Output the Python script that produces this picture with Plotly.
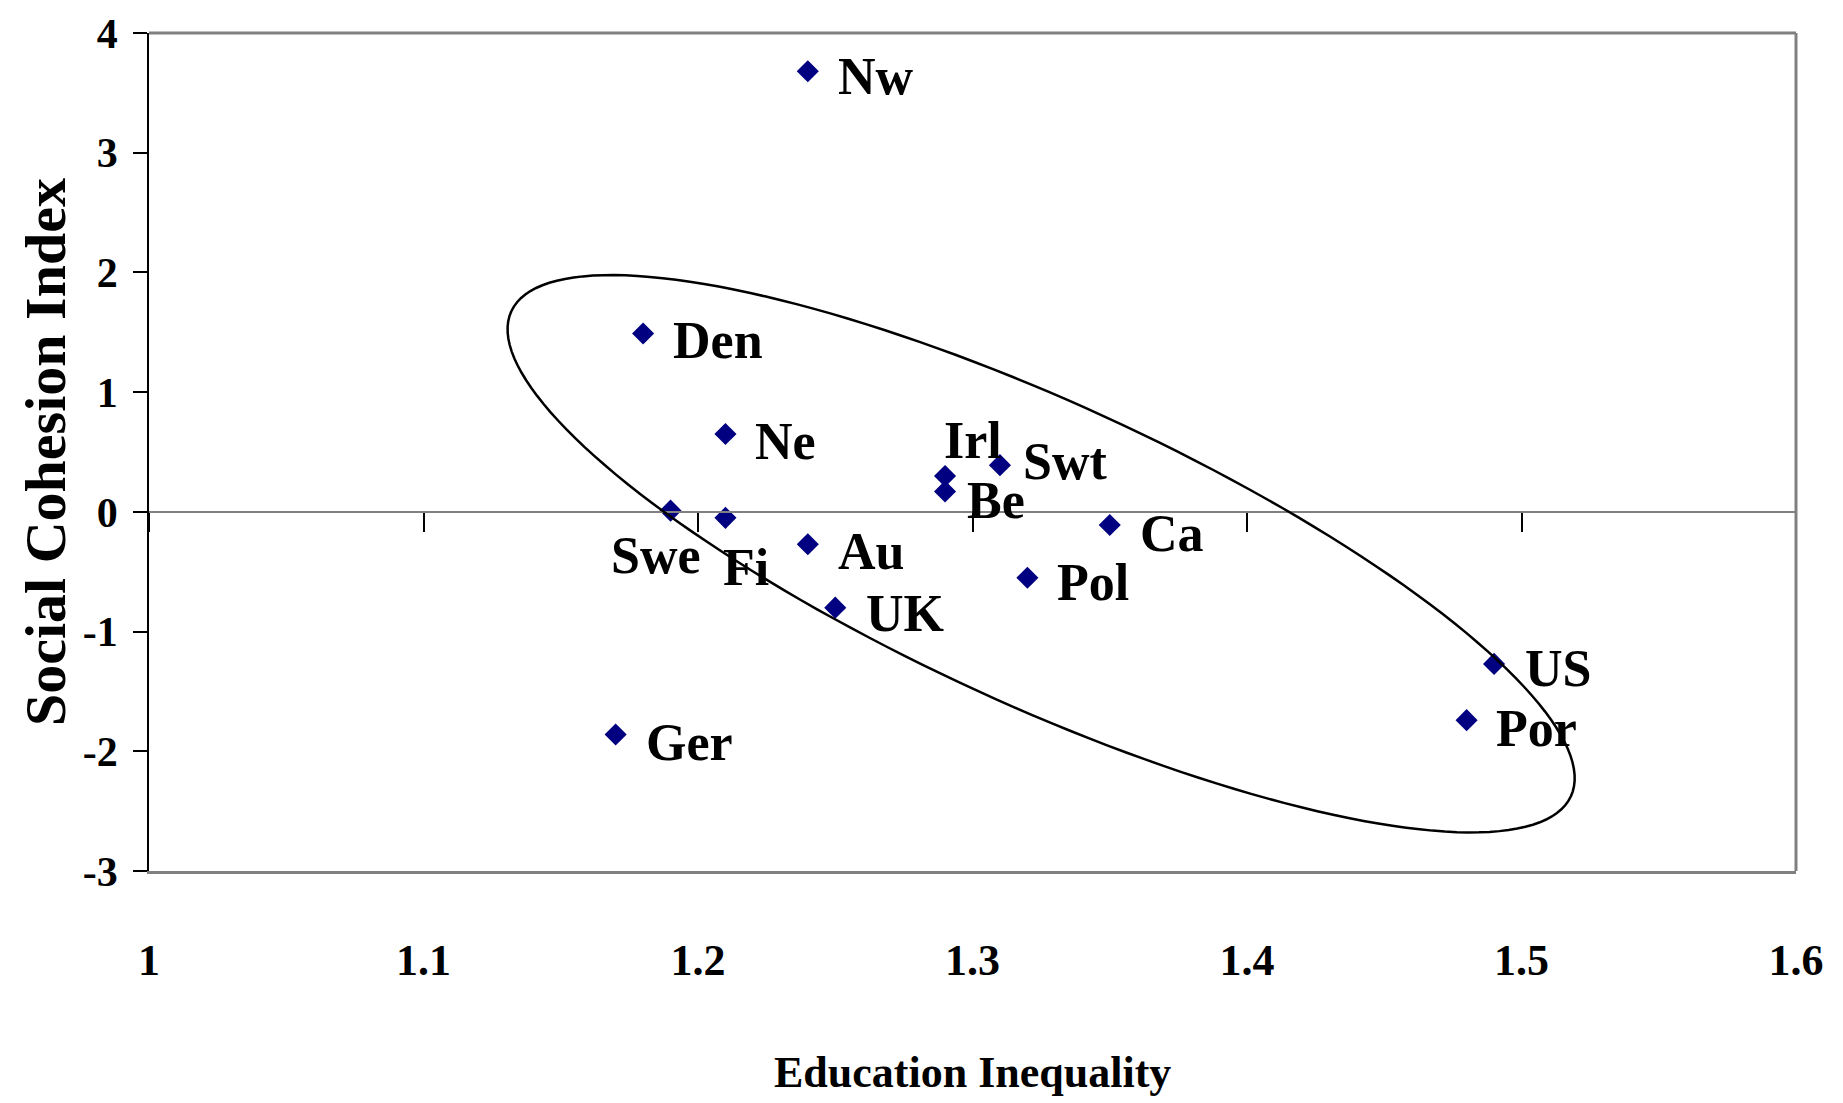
import math
import plotly.graph_objects as go

# ---- data ----
countries = ["Nw", "Den", "Ne", "Swe", "Fi", "Au", "UK", "Irl", "Be", "Swt", "Ca", "Pol", "US", "Por", "Ger"]
education_inequality = [1.24, 1.18, 1.21, 1.19, 1.21, 1.24, 1.25, 1.29, 1.29, 1.31, 1.35, 1.32, 1.49, 1.48, 1.17]
social_cohesion = [3.68, 1.49, 0.65, 0.01, -0.05, -0.27, -0.80, 0.30, 0.17, 0.39, -0.11, -0.55, -1.27, -1.74, -1.86]
x_ticks = [1, 1.1, 1.2, 1.3, 1.4, 1.5, 1.6]
x_tick_labels = ["1", "1.1", "1.2", "1.3", "1.4", "1.5", "1.6"]
y_ticks = [-3, -2, -1, 0, 1, 2, 3, 4]
y_tick_labels = ["-3", "-2", "-1", "0", "1", "2", "3", "4"]

# ---- label placement (styling) ----
label_style = {
    "Nw": ("left", 28, -5), "Den": ("left", 28, -7), "Ne": ("left", 28, -7),
    "Swe": ("center", -15, -45), "Fi": ("center", 21, -50), "Au": ("left", 28, -7),
    "UK": ("left", 29, -6), "Irl": ("left", -3, 35), "Be": ("left", 20, -9),
    "Swt": ("left", 21, 4), "Ca": ("left", 28, -8), "Pol": ("left", 28, -5),
    "US": ("left", 29, -5), "Por": ("left", 27, -8), "Ger": ("left", 28, -8),
}

# ---- ellipse (decorative outline, data coordinates) ----
ELL_C = (1.325, -0.35)
ELL_U = (0.193, -2.026)
ELL_V = (0.0231, 1.146)

FONT = "Liberation Serif, Times New Roman, serif"
GRAY = "#808080"

fig = go.Figure()
fig.add_trace(go.Scatter(
    x=education_inequality, y=social_cohesion, mode="markers",
    marker=dict(symbol="diamond", size=17, color="#000080", line=dict(width=0)),
    showlegend=False, hoverinfo="skip", text=countries,
))
# invisible trace to activate the zero-line x axis
fig.add_trace(go.Scatter(x=[1, 1.6], y=[0, 0], xaxis="x2", yaxis="y", mode="lines",
                         line=dict(width=0), showlegend=False, hoverinfo="skip"))

for c, xv, yv in zip(countries, education_inequality, social_cohesion):
    anc, dx, dy = label_style[c]
    fig.add_annotation(x=xv, y=yv, xref="x", yref="y", text=f"<b>{c}</b>", showarrow=False,
                       xanchor=anc, yanchor="middle", xshift=dx, yshift=dy,
                       font=dict(family=FONT, size=52, color="black"))

# ellipse path
pts = []
n = 180
for i in range(n + 1):
    t = 2 * math.pi * i / n
    px = ELL_C[0] + ELL_U[0] * math.cos(t) + ELL_V[0] * math.sin(t)
    py = ELL_C[1] + ELL_U[1] * math.cos(t) + ELL_V[1] * math.sin(t)
    pts.append(f"{px:.5f},{py:.5f}")
path = "M " + " L ".join(pts) + " Z"
fig.add_shape(type="path", path=path, xref="x", yref="y", line=dict(color="black", width=2.5))

# top and right border
fig.add_shape(type="line", xref="paper", yref="paper", x0=1, x1=1, y0=0, y1=1,
              line=dict(color=GRAY, width=3))
fig.add_shape(type="line", xref="paper", yref="paper", x0=0, x1=1, y0=1, y1=1,
              line=dict(color=GRAY, width=3))

fig.update_layout(
    width=1843, height=1103,
    margin=dict(l=141, r=55, t=25, b=240, autoexpand=False),
    paper_bgcolor="white", plot_bgcolor="white",
    font=dict(family=FONT, color="black"),
    xaxis=dict(range=[1, 1.6], tickvals=x_ticks, ticktext=[f"<b>{t}</b>" for t in x_tick_labels],
               showgrid=False, zeroline=False, showline=True, linecolor=GRAY, linewidth=3,
               ticks="", ticklabelstandoff=48, automargin=False, ticklabeloverflow="allow",
               tickfont=dict(family=FONT, size=44, color="black")),
    xaxis2=dict(matches="x", overlaying="x", anchor="free", position=3 / 7, range=[1, 1.6],
                tickvals=x_ticks, showticklabels=False, showgrid=False, zeroline=False,
                showline=True, linecolor=GRAY, linewidth=2, ticks="outside", ticklen=19,
                tickwidth=1.5, tickcolor="black", automargin=False),
    yaxis=dict(range=[-3, 4], tickvals=y_ticks, ticktext=[f"<b>{t}</b>" for t in y_tick_labels],
               showgrid=False, zeroline=False, showline=True, linecolor="black", linewidth=1.5,
               ticks="outside", ticklen=14, tickwidth=1.5, tickcolor="black", ticklabelstandoff=7,
               automargin=False, ticklabeloverflow="allow",
               tickfont=dict(family=FONT, size=42, color="black")),
)

fig.add_annotation(text="<b>Education Inequality</b>", xref="paper", yref="paper", x=0.5, y=0,
                   yshift=-201, xanchor="center", yanchor="middle", showarrow=False,
                   font=dict(family=FONT, size=44, color="black"))
fig.add_annotation(text="<b>Social Cohesion Index</b>", xref="paper", yref="paper", x=0, y=0.5,
                   xshift=-104, xanchor="center", yanchor="middle", textangle=-90, showarrow=False,
                   font=dict(family=FONT, size=58, color="black"))

fig.write_html("out.html")
